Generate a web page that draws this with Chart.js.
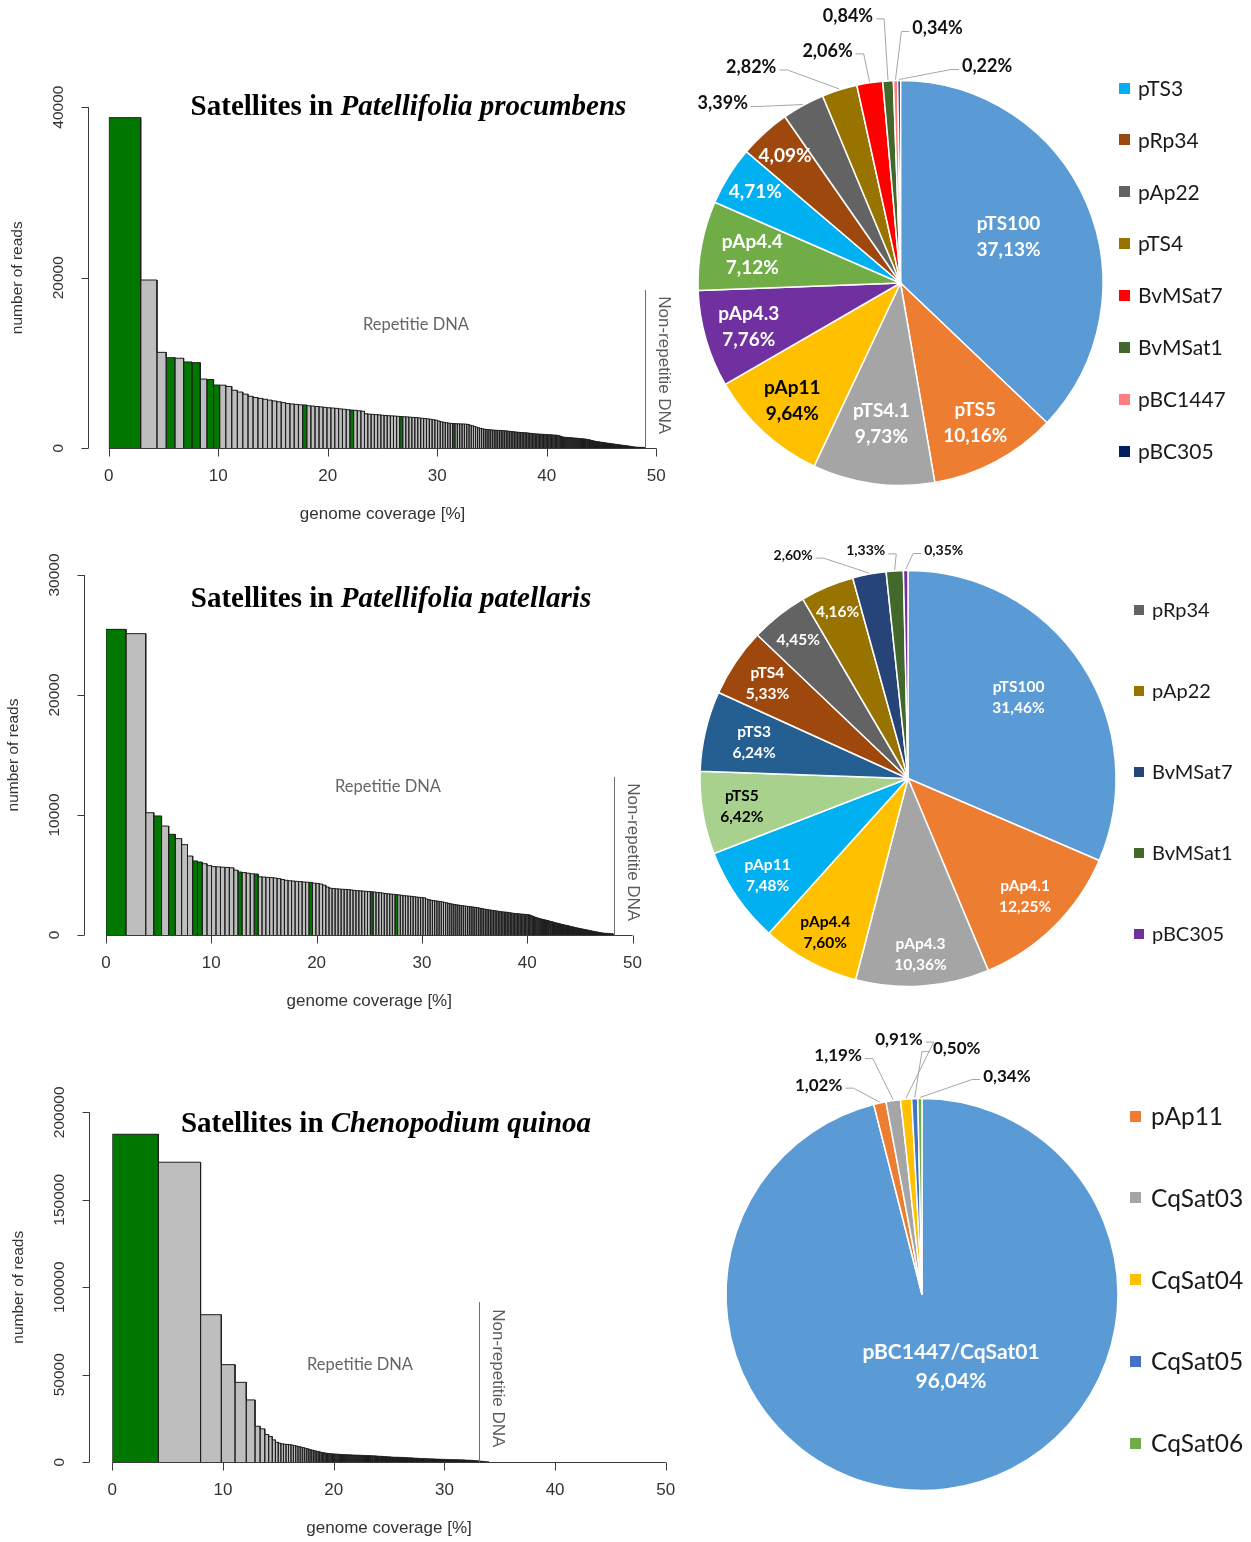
<!DOCTYPE html>
<html>
<head>
<meta charset="utf-8">
<title>Satellite DNA in Patellifolia and Chenopodium</title>
<script src="https://cdn.jsdelivr.net/npm/chart.js@4.4.1/dist/chart.umd.min.js"></script>
<style>
  html, body { margin: 0; padding: 0; background: #fff; }
  #page { position: relative; width: 1251px; height: 1542px; overflow: hidden; background: #fff; }
  #page canvas { position: absolute; left: 0; top: 0; }
</style>
</head>
<body>
<div id="page">
  <canvas id="procumbensBars" width="1251" height="1542"></canvas>
  <canvas id="patellarisBars" width="1251" height="1542"></canvas>
  <canvas id="quinoaBars" width="1251" height="1542"></canvas>
  <canvas id="procumbensPie" width="1251" height="1542"></canvas>
  <canvas id="patellarisPie" width="1251" height="1542"></canvas>
  <canvas id="quinoaPie" width="1251" height="1542"></canvas>
</div>
<script>
// ---------------------------------------------------------------------------
// Data
// ---------------------------------------------------------------------------

// Read counts of the repeat clusters, largest first (one bar per cluster).
const procumbensClusterReads = [
  38760, 19730, 11250, 10620, 10560, 10120, 10040, 8120, 8060, 7420,
  7400, 7250, 6800, 6600, 6350, 6100, 5950, 5850, 5750, 5650,
  5550, 5450, 5350, 5250, 5200, 5150, 5100, 5080, 4980, 4950,
  4900, 4850, 4800, 4750, 4720, 4680, 4620, 4580, 4520, 4480,
  4450, 4400, 4350, 4050, 4000, 3980, 3950, 3920, 3880, 3850,
  3820, 3800, 3780, 3750, 3720, 3700, 3680, 3650, 3620, 3600,
  3560, 3520, 3480, 3450, 3400, 3350, 3300, 3200, 3100, 3050,
  3000, 2950, 2920, 2900, 2880, 2870, 2860, 2850, 2840, 2800,
  2720, 2640, 2560, 2480, 2400, 2340, 2290, 2250, 2220, 2200,
  2180, 2160, 2140, 2120, 2110, 2100, 2090, 2080, 2070, 2050,
  2030, 2000, 1980, 1960, 1940, 1920, 1900, 1880, 1860, 1850,
  1840, 1830, 1820, 1800, 1780, 1760, 1740, 1720, 1700, 1690,
  1680, 1670, 1660, 1650, 1640, 1630, 1620, 1610, 1600, 1590,
  1580, 1570, 1560, 1550, 1540, 1530, 1500, 1450, 1400, 1350,
  1320, 1300, 1290, 1280, 1270, 1260, 1250, 1240, 1230, 1220,
  1210, 1200, 1190, 1180, 1170, 1160, 1150, 1140, 1130, 1120,
  1110, 1100, 1090, 1080, 1060, 1040, 1020, 1000, 980, 950,
  930, 910, 890, 870, 850, 830, 815, 800, 790, 780,
  770, 760, 750, 740, 730, 720, 710, 700, 690, 680,
  670, 660, 650, 640, 630, 620, 612, 605, 598, 590,
  582, 575, 568, 560, 552, 545, 538, 530, 522, 515,
  508, 500, 493, 486, 480, 474, 468, 462, 456, 450,
  444, 438, 432, 426, 420, 415,
  410, 405, 400, 395, 390, 385, 380, 375, 370, 366,
  362, 358, 354, 350, 346, 342, 338, 334, 330, 326,
  322, 318, 314, 310, 306, 302, 298, 294, 290, 286,
  282, 278, 274, 270, 266, 262, 258, 254, 250, 246,
  242, 238, 234, 230, 226, 222, 218, 214, 210, 206,
  203, 200, 197, 194, 191, 188, 185, 182, 179, 176,
  174, 172, 171, 169, 168, 168, 166, 165, 164, 163,
  162, 161, 160, 159, 158, 158, 157, 156, 155, 154,
  153, 152, 152, 151, 150, 150, 149, 148, 148, 147,
  146, 145, 145, 144, 143, 143, 142, 141, 141, 140,
  140, 139, 138, 138, 137, 137, 136, 136, 135, 134,
  134, 133, 132, 132, 131, 131, 130, 130, 129, 128,
  128, 127, 126, 126, 125, 125, 124, 124, 123, 122,
  122, 121, 120, 120, 119, 119, 118, 118, 117, 116,
  116, 115, 114, 114, 113, 113, 112, 112, 111, 110,
  110, 109, 108, 108, 107, 107, 106, 106, 105, 104
];
// Positions (in the list above) of clusters identified as satellite DNA.
const procumbensSatelliteClusters = [0, 3, 5, 6, 8, 9, 27, 39, 54, 73];
const procumbensReadsPerPercent = 13300;   // reads equal to 1 % of the genome
const procumbensRepeatLimit = 49.0;        // genome coverage where non-repetitive DNA begins
const procumbensReadTicks = [0, 20000, 40000];

const patellarisClusterReads = [
  25470, 25110, 10190, 9920, 9080, 8390, 8030, 7530, 6580, 6170,
  6080, 5940, 5780, 5700, 5680, 5650, 5630, 5600, 5400, 5250,
  5200, 5150, 5100, 5080, 4850, 4830, 4800, 4780, 4750, 4700,
  4620, 4560, 4520, 4500, 4470, 4450, 4420, 4400, 4380, 4320,
  4300, 4250, 4150, 4000, 3900, 3880, 3850, 3830, 3810, 3800,
  3780, 3750, 3720, 3700, 3680, 3660, 3640, 3620, 3600, 3580,
  3550, 3520, 3490, 3460, 3430, 3410, 3390, 3370, 3340, 3310,
  3280, 3260, 3240, 3220, 3190, 3160, 3140, 3120, 3100, 3000,
  2940, 2900, 2870, 2840, 2820, 2790, 2760, 2720, 2680, 2640,
  2600, 2570, 2540, 2510, 2490, 2460, 2440, 2420, 2400, 2380,
  2360, 2340, 2320, 2300, 2280, 2250, 2220, 2190, 2160, 2130,
  2110, 2090, 2070, 2050, 2030, 2010, 1990, 1970, 1950, 1930,
  1920, 1910, 1900, 1880, 1860, 1840, 1820, 1800, 1790, 1780,
  1770, 1760, 1750, 1740, 1730, 1720, 1710, 1700, 1680, 1650,
  1600, 1560, 1520, 1480, 1450, 1420, 1390, 1360, 1340, 1320,
  1300, 1280, 1260, 1240, 1220, 1200, 1180, 1160, 1140, 1120,
  1100, 1080, 1060, 1040, 1020, 1005, 990, 975, 960, 945,
  930, 915, 900, 885, 870, 858, 846, 834, 822, 810,
  798, 786, 774, 762, 750, 738, 726, 714, 702, 690,
  680, 670, 660, 650, 640, 630, 620, 610,
  602, 594, 586, 578, 570, 562, 555, 548, 541, 534,
  527, 520, 513, 506, 499, 492, 486, 480, 474, 468,
  462, 456, 450, 444, 438, 432, 426, 420, 414, 408,
  402, 396, 390, 385, 380, 375, 370, 365, 360, 355,
  350, 345, 340, 335, 330, 325,
  320, 316, 312, 308, 304, 300, 297, 294, 291, 288,
  285, 282, 279, 276, 273, 270, 267, 264, 261, 258,
  255, 252, 249, 246, 243, 240, 237, 234, 231, 228,
  225, 222, 219, 216, 213, 210, 207, 204, 201, 198,
  196, 194, 192, 190, 188, 186, 184, 182, 180, 178,
  177, 176, 174, 173, 172, 171, 170, 170, 169, 168,
  167, 166, 165, 163, 162, 161, 160, 159, 159, 158,
  157, 156, 155, 154, 153, 152, 152, 151, 150, 150,
  149, 148, 148, 147, 146, 146, 145, 144, 144, 143,
  142, 141, 141, 140, 139, 139, 138, 137, 137, 136,
  136, 135, 134, 134, 133, 133, 132, 131, 131, 131,
  130, 129, 128, 128, 127, 127, 126, 125, 125, 125,
  124, 123, 122, 122, 121, 121, 120, 119, 119, 119,
  118, 117, 116, 115, 114, 114, 113, 112, 111, 110,
  109, 108, 107, 106, 105, 105, 104, 103, 102, 101
];
const patellarisSatelliteClusters = [0, 3, 5, 9, 10, 19, 23, 38, 58, 67, 121];
const patellarisReadsPerPercent = 13400;
const patellarisRepeatLimit = 48.24;
const patellarisReadTicks = [0, 10000, 20000, 30000];

const quinoaClusterReads = [
  187440, 171460, 84300, 55760, 45660, 35590, 20550, 19060, 15800, 14670,
  12770, 11420, 10850, 10500, 10300, 10150, 10050, 9800, 9500, 9200,
  8900, 8600, 8300, 8000, 7700, 7400, 7100, 6800, 6600, 6400,
  6200, 6000, 5800, 5600, 5450, 5300, 5200, 5100, 5000, 4900,
  4850, 4800, 4750, 4700, 4650, 4600, 4560, 4520, 4480, 4440,
  4400, 4370, 4340, 4310, 4280, 4250, 4220, 4190, 4160, 4130,
  4100, 4080, 4060, 4040, 4020, 4000, 3980, 3960, 3940, 3920,
  3900, 3880, 3860, 3840, 3820, 3800, 3780, 3760, 3740, 3720,
  3700, 3670, 3640, 3610, 3580, 3550, 3520, 3490, 3460, 3430,
  3400, 3370, 3340, 3310, 3280, 3250, 3220, 3190, 3160, 3130,
  3100, 3070, 3040, 3010, 2980, 2950, 2920, 2900, 2880, 2860,
  2850, 2840, 2830, 2820, 2810, 2800, 2790, 2780, 2770, 2760,
  2750, 2730, 2710, 2690, 2670, 2650, 2630, 2610, 2590, 2570,
  2550, 2530, 2510, 2490, 2470, 2450, 2430, 2410, 2390, 2370,
  2350, 2330, 2310, 2290, 2270, 2250, 2230, 2210, 2190, 2170,
  2150, 2140, 2130, 2120, 2110, 2100, 2090, 2080, 2070, 2060,
  2050, 2040, 2030, 2020, 2010, 2000, 1990, 1980, 1970, 1960,
  1950, 1940, 1930, 1920, 1910, 1900, 1890, 1880, 1870, 1860,
  1850, 1840, 1830, 1820, 1810, 1800, 1790, 1780, 1770, 1760,
  1750, 1740, 1730, 1720, 1710, 1700, 1690, 1680, 1670, 1660,
  1650, 1640, 1630, 1620, 1610, 1600, 1595, 1590, 1585, 1580,
  1575, 1570, 1565, 1560, 1555, 1550, 1545, 1540, 1535, 1530,
  1525, 1520, 1515, 1510, 1505, 1500, 1495, 1490, 1485, 1480,
  1475, 1470, 1465, 1460, 1455, 1450, 1445, 1440, 1435, 1430,
  1425, 1420, 1415, 1410, 1405, 1400, 1395, 1390, 1385, 1380,
  1370, 1360, 1350, 1340, 1330, 1320, 1310, 1300, 1290, 1280,
  1270, 1260, 1250, 1240, 1230, 1220, 1210, 1200, 1195, 1190,
  1185, 1180, 1175, 1170, 1165, 1160, 1155, 1150, 1145, 1140,
  1130, 1115, 1100, 1085, 1070, 1055, 1040, 1025, 1010, 995,
  985, 975, 965, 955, 945, 935, 925, 915, 905, 895,
  885, 875, 865, 855, 845, 835, 825, 815, 805, 795,
  785, 775, 765, 755, 745, 735, 725, 715, 705, 695,
  685, 675, 665, 655, 645, 635, 625, 615, 605, 595,
  585, 578, 571, 564, 557, 550, 543, 536, 529, 522,
  515, 508, 501, 494, 487, 480, 473, 466, 459, 452,
  445, 438, 431, 424, 417, 410, 404, 398, 392, 386,
  380, 374, 368, 362, 356, 350, 345, 340, 335, 330,
  325, 320, 315, 310, 305, 300, 296, 292, 288, 284,
  280, 276, 272, 268, 264, 260, 256, 252, 248, 244,
  240, 236, 232, 228, 224, 220, 217, 214, 211, 208,
  205, 202, 199, 196, 193, 190, 187, 184, 181, 178,
  175, 172, 169, 166, 163, 160, 157, 154, 151, 148,
  145, 142, 139, 136, 133, 130, 127, 124, 121, 118
];
const quinoaSatelliteClusters = [0];
const quinoaReadsPerPercent = 45000;
const quinoaRepeatLimit = 33.13;
const quinoaReadTicks = [0, 50000, 100000, 150000, 200000];

const coverageTicks = [0, 10, 20, 30, 40, 50];

// Share of each satellite family among all satellite reads (%).
const procumbensSatNames = ['pTS100', 'pTS5', 'pTS4.1', 'pAp11', 'pAp4.3', 'pAp4.4', 'pTS3', 'pRp34',
  'pAp22', 'pTS4', 'BvMSat7', 'BvMSat1', 'pBC1447', 'pBC305'];
const procumbensSatShares = [37.13, 10.16, 9.73, 9.64, 7.76, 7.12, 4.71, 4.09, 3.39, 2.82, 2.06, 0.84, 0.34, 0.22];

const patellarisSatNames = ['pTS100', 'pAp4.1', 'pAp4.3', 'pAp4.4', 'pAp11', 'pTS5', 'pTS3', 'pTS4',
  'pRp34', 'pAp22', 'BvMSat7', 'BvMSat1', 'pBC305'];
const patellarisSatShares = [31.46, 12.25, 10.36, 7.60, 7.48, 6.42, 6.24, 5.33, 4.45, 4.16, 2.60, 1.33, 0.35];

const quinoaSatNames = ['pBC1447/CqSat01', 'pAp11', 'CqSat03', 'CqSat04', 'CqSat05', 'CqSat06'];
const quinoaSatShares = [96.04, 1.02, 1.19, 0.91, 0.50, 0.34];

// ---------------------------------------------------------------------------
// Styles and layout
// ---------------------------------------------------------------------------
const PAGE_W = 1251, PAGE_H = 1542;
const clusterStyle = { fill: '#bebebe', satellite: '#007800', edge: '#1e1e1e' };

const procumbensFrame = {
  area: { left: 108.8, top: 107.1, right: 656.3, bottom: 448.3 }, axisGap: 21.3,
  title: { plain: 'Satellites in ', italic: 'Patellifolia procumbens', x: 408.5, baseline: 115 },
  repeatLabel: { x: 28.05, y: 14460 }, limitTop: 18560
};
const patellarisFrame = {
  area: { left: 106, top: 575, right: 632.5, bottom: 935 }, axisGap: 22,
  title: { plain: 'Satellites in ', italic: 'Patellifolia patellaris', x: 391, baseline: 607 },
  repeatLabel: { x: 26.78, y: 12330 }, limitTop: 13170
};
const quinoaFrame = {
  area: { left: 112.3, top: 1112.3, right: 665.8, bottom: 1462.2 }, axisGap: 23.3,
  title: { plain: 'Satellites in ', italic: 'Chenopodium quinoa', x: 386, baseline: 1132 },
  repeatLabel: { x: 22.38, y: 55540 }, limitTop: 91500
};

const procumbensPieStyle = {
  center: [900.5, 283], radius: 202.5,
  colors: ['#5B9BD5', '#ED7D31', '#A5A5A5', '#FFC000', '#7030A0', '#70AD47', '#00B0F0', '#9E480E',
    '#636363', '#997300', '#FF0000', '#43682B', '#FF7C80', '#002060'],
  modes: ['name', 'name', 'name', 'name', 'name', 'name', 'value', 'value',
    'callout', 'callout', 'callout', 'callout', 'callout', 'callout'],
  labelRadius: [0.58, 0.785, 0.70, 0.79, 0.78, 0.745, 0.845, 0.85],
  labelShift: [],
  labelColors: ['#fff', '#fff', '#fff', '#000', '#fff', '#fff', '#fff', '#fff'],
  callouts: { 8: [-80, -1], 9: [-88, -22], 10: [-42, -31], 11: [-40, -64], 12: [42, -51], 13: [88, -13] },
  insideSize: 19, lineGap: 26, outsideSize: 18,
  legend: { items: [6, 7, 8, 9, 10, 11, 12, 13], x: 1119, y: 88, step: 51.9, box: 11, size: 21, gap: 8 }
};
const patellarisPieStyle = {
  center: [908, 778.5], radius: 208,
  colors: ['#5B9BD5', '#ED7D31', '#A5A5A5', '#FFC000', '#00B0F0', '#A9D18E', '#255E91', '#9E480E',
    '#636363', '#997300', '#264478', '#43682B', '#7030A0'],
  modes: ['name', 'name', 'name', 'name', 'name', 'name', 'name', 'name', 'value', 'value',
    'callout', 'callout', 'callout'],
  labelRadius: [0.66, 0.80, 0.85, 0.84, 0.82, 0.81, 0.76, 0.815, 0.85, 0.87],
  labelShift: [-3],
  labelColors: ['#fff', '#fff', '#fff', '#000', '#fff', '#000', '#fff', '#fff', '#fff', '#fff'],
  callouts: { 10: [-76, -18], 11: [-29, -19], 12: [38, -19] },
  insideSize: 15.5, lineGap: 21, outsideSize: 14,
  legend: { items: [8, 9, 10, 11, 12], x: 1134, y: 610, step: 81, box: 10, size: 20, gap: 8 }
};
const quinoaPieStyle = {
  center: [922, 1294.5], radius: 196,
  colors: ['#5B9BD5', '#ED7D31', '#A5A5A5', '#FFC000', '#4472C4', '#70AD47'],
  modes: ['name', 'callout', 'callout', 'callout', 'callout', 'callout'],
  labelRadius: [0.396],
  labelShift: [-14.8],
  labelColors: ['#fff'],
  callouts: { 1: [-61, -17], 2: [-55, -44], 3: [-7, -59], 4: [42, -49], 5: [87, -21] },
  insideSize: 21, lineGap: 29, outsideSize: 17,
  legend: { items: [1, 2, 3, 4, 5], x: 1130, y: 1116, step: 81.8, box: 11, size: 24.5, gap: 10 }
};

// ---------------------------------------------------------------------------
// Plugins
// ---------------------------------------------------------------------------
const SANS = '"Liberation Sans", Arial, sans-serif';
const SERIF = '"Liberation Serif", "Times New Roman", serif';
const CAL = 'Lato, "Open Sans", sans-serif';

// R-style axes, titles and annotations around the cluster bar plot
const rPlotDecor = {
  id: 'rPlotDecor',
  afterDraw(chart, args, o) {
    const { ctx, chartArea: a } = chart;
    const xs = chart.scales.x, ys = chart.scales.y;
    const px = v => xs.getPixelForValue(v), py = v => ys.getPixelForValue(v);
    const snap = v => Math.round(v) + 0.5;
    const xt = xs.ticks.map(t => t.value), yt = ys.ticks.map(t => t.value);
    ctx.save();
    ctx.lineWidth = 1;
    ctx.strokeStyle = '#3a3a3a';
    const ax = snap(a.left - o.axisGap);
    const ay = snap(py(0));
    ctx.beginPath();
    ctx.moveTo(ax, py(yt[0])); ctx.lineTo(ax, py(yt[yt.length - 1]));
    yt.forEach(v => { const y = snap(py(v)); ctx.moveTo(ax, y); ctx.lineTo(ax - 7, y); });
    ctx.moveTo(px(xt[0]), ay); ctx.lineTo(px(xt[xt.length - 1]), ay);
    xt.forEach(v => { const x = snap(px(v)); ctx.moveTo(x, ay); ctx.lineTo(x, ay + 8); });
    ctx.stroke();

    ctx.fillStyle = '#333';
    ctx.textAlign = 'center';
    ctx.textBaseline = 'middle';
    ctx.font = `17px ${SANS}`;
    xt.forEach(v => ctx.fillText(String(v), px(v), ay + 28));
    ctx.font = `15.5px ${SANS}`;
    yt.forEach(v => {
      ctx.save(); ctx.translate(ax - 30, py(v)); ctx.rotate(-Math.PI / 2);
      ctx.fillText(String(v), 0, 0); ctx.restore();
    });
    ctx.font = `17px ${SANS}`;
    ctx.fillText('genome coverage [%]', (a.left + a.right) / 2, ay + 66);
    ctx.font = `15.5px ${SANS}`;
    ctx.save(); ctx.translate(ax - 71, (py(yt[0]) + py(yt[yt.length - 1])) / 2); ctx.rotate(-Math.PI / 2);
    ctx.fillText('number of reads', 0, 0); ctx.restore();

    // boundary between repetitive and non-repetitive DNA
    const bx = snap(px(o.limit));
    const bTop = py(o.limitTop);
    ctx.strokeStyle = '#6e6e6e';
    ctx.beginPath(); ctx.moveTo(bx, bTop); ctx.lineTo(bx, ay); ctx.stroke();
    ctx.fillStyle = '#5a5a5a';
    ctx.font = `17px ${SANS}`;
    ctx.save(); ctx.translate(bx + 18, (bTop + ay) / 2 - 4); ctx.rotate(Math.PI / 2);
    ctx.fillText('Non-repetitie DNA', 0, 0); ctx.restore();

    ctx.fillStyle = '#666';
    ctx.font = `16.5px ${CAL}`;
    ctx.fillText('Repetitie DNA', px(o.repeatLabel.x), py(o.repeatLabel.y));

    // main title: plain + italic species name
    const t = o.title;
    const f1 = `bold 29px ${SERIF}`, f2 = `italic bold 29px ${SERIF}`;
    ctx.font = f1; const w1 = ctx.measureText(t.plain).width;
    ctx.font = f2; const w2 = ctx.measureText(t.italic).width;
    const x0 = t.x - (w1 + w2) / 2;
    ctx.fillStyle = '#000';
    ctx.textAlign = 'left';
    ctx.textBaseline = 'alphabetic';
    ctx.font = f1; ctx.fillText(t.plain, x0, t.baseline);
    ctx.font = f2; ctx.fillText(t.italic, x0 + w1, t.baseline);
    ctx.restore();
  }
};

// Percentage labels, leader lines and legend of the satellite pies
const pctText = v => v.toFixed(2).replace('.', ',') + '%';
const pieDecor = {
  id: 'pieDecor',
  afterDatasetsDraw(chart, args, o) {
    const ctx = chart.ctx;
    const meta = chart.getDatasetMeta(0);
    const ds = chart.data.datasets[0];
    const names = chart.data.labels;
    ctx.save();
    ctx.textAlign = 'center';
    ctx.textBaseline = 'middle';
    meta.data.forEach((arc, i) => {
      const { x, y, startAngle, endAngle, outerRadius } =
        arc.getProps(['x', 'y', 'startAngle', 'endAngle', 'outerRadius'], true);
      const mid = (startAngle + endAngle) / 2;
      const mode = o.modes[i];
      const value = pctText(ds.data[i]);
      if (mode === 'name' || mode === 'value') {
        const ang = mid + (o.labelShift[i] || 0) * Math.PI / 180;
        const r = outerRadius * o.labelRadius[i];
        const lx = x + Math.cos(ang) * r, ly = y + Math.sin(ang) * r;
        ctx.fillStyle = o.labelColors[i];
        ctx.font = `bold ${o.insideSize}px ${CAL}`;
        if (mode === 'name') {
          ctx.fillText(names[i], lx, ly - o.lineGap / 2);
          ctx.fillText(value, lx, ly + o.lineGap / 2);
        } else {
          ctx.fillText(value, lx, ly);
        }
      } else if (mode === 'callout') {
        const ox = x + Math.cos(mid) * (outerRadius + 1), oy = y + Math.sin(mid) * (outerRadius + 1);
        const [dx, dy] = o.callouts[i];
        const lx = ox + dx, ly = oy + dy;
        ctx.font = `bold ${o.outsideSize}px ${CAL}`;
        const w = ctx.measureText(value).width;
        const side = dx < 0 ? 1 : -1;
        const sx = lx + side * (w / 2 + 3), sy = ly + 3;
        ctx.strokeStyle = '#a6a6a6';
        ctx.lineWidth = 1;
        ctx.beginPath();
        ctx.moveTo(sx, sy);
        ctx.lineTo(sx + side * 8, sy);
        ctx.lineTo(ox, oy);
        ctx.stroke();
        ctx.fillStyle = '#111';
        ctx.fillText(value, lx, ly);
      }
    });
    // legend for the slices without an inside name
    const lg = o.legend;
    ctx.textAlign = 'left';
    ctx.font = `${lg.size}px ${CAL}`;
    lg.items.forEach((idx, k) => {
      const cy = lg.y + k * lg.step;
      ctx.fillStyle = ds.backgroundColor[idx];
      ctx.fillRect(lg.x, Math.round(cy - lg.box / 2), lg.box, lg.box);
      ctx.fillStyle = '#1a1a1a';
      ctx.fillText(names[idx], lg.x + lg.box + lg.gap, cy + 1);
    });
    ctx.restore();
  }
};

// ---------------------------------------------------------------------------
// Builders
// ---------------------------------------------------------------------------
function paddingFor(area) {
  return { left: area.left, top: area.top, right: PAGE_W - area.right, bottom: PAGE_H - area.bottom };
}

// Bars: each cluster is as wide as its genome share (reads / reads per percent)
function clusterDatasets(reads, satellites, perPercent) {
  const edges = [0];
  reads.forEach(r => edges.push(edges[edges.length - 1] + r / perPercent));
  const envelope = [{ x: 0, y: 0 }];
  const outlines = [];
  reads.forEach((r, i) => {
    envelope.push({ x: edges[i], y: r }, { x: edges[i + 1], y: r });
    outlines.push({ x: edges[i], y: 0 }, { x: edges[i], y: r }, { x: edges[i + 1], y: r }, { x: edges[i + 1], y: 0 });
  });
  envelope.push({ x: edges[reads.length], y: 0 });
  const sets = [{
    label: 'cluster borders', data: outlines, borderColor: clusterStyle.edge, borderWidth: 1,
    fill: false, order: 0
  }];
  satellites.forEach(i => sets.push({
    label: 'satellite cluster ' + (i + 1),
    data: [{ x: edges[i], y: 0 }, { x: edges[i], y: reads[i] }, { x: edges[i + 1], y: reads[i] }, { x: edges[i + 1], y: 0 }],
    borderWidth: 0, borderColor: 'rgba(0,0,0,0)', backgroundColor: clusterStyle.satellite, fill: 'origin', order: 1
  }));
  sets.push({
    label: 'repeat clusters', data: envelope, borderWidth: 0, borderColor: 'rgba(0,0,0,0)',
    backgroundColor: clusterStyle.fill, fill: 'origin', order: 2
  });
  return sets;
}

function clusterChart(id, reads, satellites, perPercent, limit, readTicks, frame) {
  const fixedTicks = values => (scale) => { scale.ticks = values.map(v => ({ value: v })); };
  return new Chart(document.getElementById(id), {
    type: 'line',
    data: { datasets: clusterDatasets(reads, satellites, perPercent) },
    options: {
      responsive: false, animation: false, events: [],
      layout: { padding: paddingFor(frame.area) },
      elements: { point: { radius: 0, hitRadius: 0, hoverRadius: 0 }, line: { tension: 0 } },
      scales: {
        x: {
          type: 'linear', min: coverageTicks[0], max: coverageTicks[coverageTicks.length - 1],
          afterBuildTicks: fixedTicks(coverageTicks),
          ticks: { display: false }, grid: { display: false, drawTicks: false }, border: { display: false }
        },
        y: {
          type: 'linear', min: readTicks[0], max: readTicks[readTicks.length - 1],
          afterBuildTicks: fixedTicks(readTicks),
          ticks: { display: false }, grid: { display: false, drawTicks: false }, border: { display: false }
        }
      },
      plugins: {
        legend: { display: false }, tooltip: { enabled: false },
        rPlotDecor: {
          axisGap: frame.axisGap, title: frame.title, repeatLabel: frame.repeatLabel,
          limit: limit, limitTop: frame.limitTop
        }
      }
    },
    plugins: [rPlotDecor]
  });
}

function satellitePie(id, names, shares, style) {
  const [cx, cy] = style.center;
  const half = style.radius + 6;
  return new Chart(document.getElementById(id), {
    type: 'pie',
    data: {
      labels: names,
      datasets: [{
        data: shares, backgroundColor: style.colors, borderColor: '#ffffff', borderWidth: 1.5,
        radius: style.radius
      }]
    },
    options: {
      responsive: false, animation: false, events: [],
      layout: { padding: paddingFor({ left: cx - half, right: cx + half, top: cy - half, bottom: cy + half }) },
      plugins: {
        legend: { display: false }, tooltip: { enabled: false },
        pieDecor: style
      }
    },
    plugins: [pieDecor]
  });
}

function drawAll() {
  clusterChart('procumbensBars', procumbensClusterReads, procumbensSatelliteClusters,
    procumbensReadsPerPercent, procumbensRepeatLimit, procumbensReadTicks, procumbensFrame);
  clusterChart('patellarisBars', patellarisClusterReads, patellarisSatelliteClusters,
    patellarisReadsPerPercent, patellarisRepeatLimit, patellarisReadTicks, patellarisFrame);
  clusterChart('quinoaBars', quinoaClusterReads, quinoaSatelliteClusters,
    quinoaReadsPerPercent, quinoaRepeatLimit, quinoaReadTicks, quinoaFrame);
  satellitePie('procumbensPie', procumbensSatNames, procumbensSatShares, procumbensPieStyle);
  satellitePie('patellarisPie', patellarisSatNames, patellarisSatShares, patellarisPieStyle);
  satellitePie('quinoaPie', quinoaSatNames, quinoaSatShares, quinoaPieStyle);
}

const fontLoads = [
  'bold 29px "Liberation Serif"', 'italic bold 29px "Liberation Serif"',
  '15px "Liberation Sans"', '16px Lato', 'bold 16px Lato'
].map(f => document.fonts.load(f).catch(() => null));
Promise.all(fontLoads).then(drawAll, drawAll);
</script>
</body>
</html>
